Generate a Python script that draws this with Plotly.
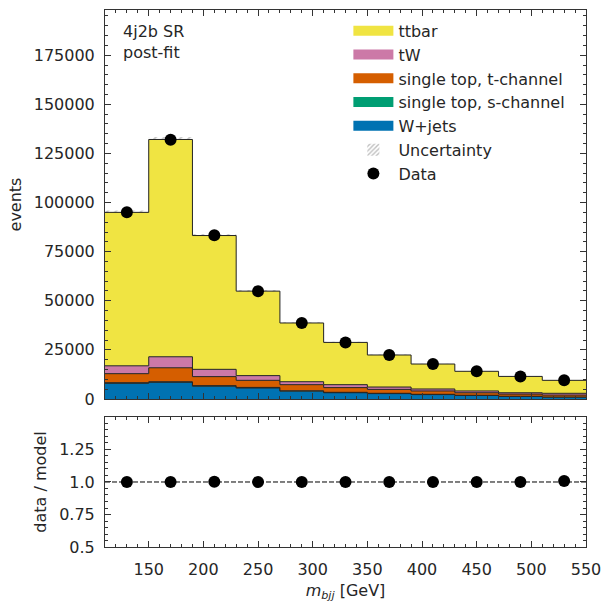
import numpy as np
import plotly.graph_objects as go

# ---------------- data ----------------
bin_edges = [110, 150, 190, 230, 270, 310, 350, 390, 430, 470, 510, 550]
wjets = [8000, 8500, 6500, 5600, 4000, 3200, 2750, 2250, 1800, 1300, 950]
schan = [300, 300, 300, 300, 200, 200, 150, 150, 100, 100, 50]
tchan = [4600, 7100, 4600, 3600, 3100, 2400, 2000, 1700, 1300, 1100, 1000]
tw = [4000, 5600, 3700, 2400, 1500, 1500, 1200, 1000, 900, 700, 900]
ttbar = [78100, 110600, 68100, 43000, 29900, 21500, 16300, 12700, 10000, 8300, 6600]
uncert = [900, 1200, 800, 550, 400, 300, 250, 200, 170, 150, 130]
data = [95000, 132000, 83300, 54900, 38700, 28800, 22400, 17800, 14100, 11500, 9570]

samples = ["W+jets", "single top, s-channel", "single top, t-channel", "tW", "ttbar"]
sample_values = [wjets, schan, tchan, tw, ttbar]
colors = ["#0072b2", "#009e73", "#d55e00", "#cc79a7", "#f0e442"]

edges = np.array(bin_edges, dtype=float)
centers = 0.5 * (edges[:-1] + edges[1:])
widths = edges[1:] - edges[:-1]
total = np.sum(np.array(sample_values, dtype=float), axis=0)
data_arr = np.array(data, dtype=float)
ratio = data_arr / total
ratio_err = np.sqrt(data_arr) / total

TXT = "#262626"
FRAME = "#333333"
FONT = "DejaVu Sans"

fig = go.Figure()

# stacked step-filled histograms
cum = np.zeros(len(centers))
for i, (name, vals, col) in enumerate(zip(samples, sample_values, colors)):
    cum = cum + np.array(vals, dtype=float)
    ys = list(cum) + [cum[-1]]
    fig.add_trace(go.Scatter(
        x=list(edges), y=ys, mode="lines", line=dict(shape="hv", color="#222222", width=1),
        fill="tozeroy" if i == 0 else "tonexty", fillcolor=col,
        showlegend=False, hoverinfo="skip", xaxis="x", yaxis="y"))

# uncertainty band (hatched)
unc = np.array(uncert, dtype=float)
fig.add_trace(go.Bar(
    x=centers, y=2 * unc, base=total - unc, width=widths,
    marker=dict(color="rgba(0,0,0,0)", line=dict(width=0),
                pattern=dict(shape="/", fgcolor="#8c8c8c", bgcolor="rgba(0,0,0,0)", size=6, solidity=0.3)),
    showlegend=False, xaxis="x", yaxis="y", hoverinfo="skip"))

# legend dummies (ordered as in reference)
for name, col in zip(samples[::-1], colors[::-1]):
    fig.add_trace(go.Scatter(x=[None], y=[None], mode="lines",
                             line=dict(color=col, width=11), name=name, xaxis="x", yaxis="y"))
fig.add_trace(go.Bar(x=[None], y=[None], name="Uncertainty",
                     marker=dict(color="rgba(0,0,0,0)", line=dict(width=0),
                                 pattern=dict(shape="/", fgcolor="#808080", size=4, solidity=0.45)),
                     xaxis="x", yaxis="y"))

# data
fig.add_trace(go.Scatter(
    x=centers, y=data_arr, mode="markers", name="Data",
    marker=dict(color="black", size=12),
    error_y=dict(type="data", array=np.sqrt(data_arr), color="black", thickness=1.5, width=0),
    xaxis="x", yaxis="y"))

# ratio
fig.add_trace(go.Scatter(
    x=centers, y=ratio, mode="markers", showlegend=False,
    marker=dict(color="black", size=12),
    error_y=dict(type="data", array=ratio_err, color="black", thickness=1.5, width=0),
    xaxis="x2", yaxis="y2"))

axis_common = dict(
    showline=True, linecolor=FRAME, linewidth=1, mirror="allticks",
    ticks="inside", ticklen=6, tickwidth=1, tickcolor=FRAME,
    showgrid=False, zeroline=False,
    tickfont=dict(family=FONT, size=16, color=TXT),
)

fig.update_layout(
    width=611, height=611,
    margin=dict(l=105, r=25, t=10, b=64),
    paper_bgcolor="white", plot_bgcolor="white",
    barmode="overlay",
    font=dict(family=FONT, size=16, color=TXT),
    xaxis=dict(domain=[0, 1], anchor="y", range=[110, 550], dtick=50, tick0=0,
               showticklabels=False, matches="x2",
               minor=dict(ticks="inside", ticklen=3, dtick=10, tick0=0, tickcolor=FRAME),
               **axis_common),
    yaxis=dict(domain=[0.2756, 1], anchor="x", range=[0, 198000], dtick=25000, tick0=0,
               tickformat="d", ticklabelstandoff=6,
               minor=dict(ticks="inside", ticklen=3, dtick=5000, tick0=0, tickcolor=FRAME),
               title=dict(text="events", font=dict(family=FONT, size=16, color=TXT), standoff=8),
               **axis_common),
    xaxis2=dict(domain=[0, 1], anchor="y2", range=[110, 550], dtick=50, tick0=0,
                ticklabelstandoff=8,
                minor=dict(ticks="inside", ticklen=3, dtick=10, tick0=0, tickcolor=FRAME),
                title=dict(text="<i>m</i><sub><i>bjj</i></sub> [GeV]",
                           font=dict(family=FONT, size=16, color=TXT), standoff=6),
                **axis_common),
    yaxis2=dict(domain=[0, 0.2421], anchor="x2", range=[0.5, 1.5],
                tickmode="array", tickvals=[0.5, 0.75, 1.0, 1.25], ticktext=["0.5", "0.75", "1.0", "1.25"],
                ticklabelstandoff=6,
                minor=dict(ticks="inside", ticklen=3, dtick=0.05, tick0=0.5, tickcolor=FRAME),
                title=dict(text="data / model", font=dict(family=FONT, size=16, color=TXT), standoff=8),
                **axis_common),
    legend=dict(x=0.506, y=0.993, xanchor="left", yanchor="top",
                bgcolor="rgba(255,255,255,0)", borderwidth=0,
                font=dict(family=FONT, size=16, color=TXT), traceorder="normal",
                itemwidth=40, tracegroupgap=0),
    showlegend=True,
)

fig.add_shape(type="line", xref="x2 domain", yref="y2", x0=0, x1=1, y0=1, y1=1,
              line=dict(color="black", width=1, dash="5px,2px"), layer="below")

fig.add_annotation(xref="paper", yref="paper", x=0.033, y=0.981, xanchor="left", yanchor="top",
                   text="4j2b SR<br>post-fit", showarrow=False, align="left",
                   font=dict(family=FONT, size=16, color=TXT))

fig.write_html("out.html")
